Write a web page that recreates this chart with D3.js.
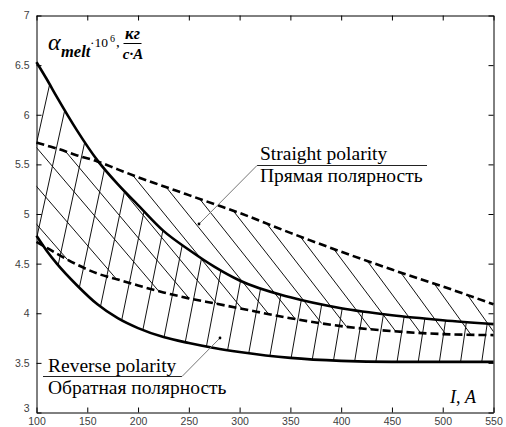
<!DOCTYPE html>
<html>
<head>
<meta charset="utf-8">
<script src="https://cdn.jsdelivr.net/npm/d3@7.9.0/dist/d3.min.js"></script>
<style>
  body { margin: 0; background: #fff; }
  svg { display: block; }
  .tick text { font-family: "Liberation Sans", Arial, sans-serif; font-size: 10.5px; fill: #404040; }
  .tick line, .domain { stroke: #000; }
  .lbl { font-family: "Liberation Serif", "Times New Roman", serif; fill: #000; }
</style>
</head>
<body>
<svg id="chart" width="506" height="427"></svg>
<script>
// welding current, A
const current = [100, 110, 120, 140, 160, 180, 200, 225, 250, 275, 300, 350, 400, 450, 500, 550];
// reverse polarity band (solid curves)
const reverseUpper = [6.53, 6.36, 6.18, 5.84, 5.54, 5.30, 5.09, 4.83, 4.64, 4.47, 4.33, 4.16, 4.05, 3.98, 3.93, 3.89];
const reverseLower = [4.78, 4.63, 4.50, 4.28, 4.09, 3.95, 3.85, 3.76, 3.70, 3.65, 3.61, 3.55, 3.52, 3.51, 3.51, 3.51];
// straight polarity band (dashed curves)
const straightUpper = [5.72, 5.69, 5.66, 5.59, 5.53, 5.45, 5.37, 5.28, 5.19, 5.10, 5.01, 4.81, 4.62, 4.44, 4.27, 4.09];
const straightLower = [4.72, 4.66, 4.60, 4.49, 4.40, 4.34, 4.28, 4.21, 4.15, 4.10, 4.05, 3.95, 3.87, 3.82, 3.79, 3.78];

const xTicks = [100, 150, 200, 250, 300, 350, 400, 450, 500, 550];
const yTicks = [3, 3.5, 4, 4.5, 5, 5.5, 6, 6.5, 7];
const yTickLabels = ['3', '3.5', '4', '4.5', '5', '5.5', '6', '6.5', '7'];

const svg = d3.select('#chart');
const x = d3.scaleLinear().domain([100, 550]).range([36.5, 493.5]);
const y = d3.scaleLinear().domain([3, 7]).range([412.5, 15.5]);
const yTop = y(7), yBottom = y(3);

const band = (upper, lower) => d3.area()
  .x((d, i) => x(current[i]))
  .y0((d, i) => y(lower[i]))
  .y1((d, i) => y(upper[i]))
  .curve(d3.curveMonotoneX)(current);

const defs = svg.append('defs');
defs.append('clipPath').attr('id', 'revClip')
  .append('path').attr('d', band(reverseUpper, reverseLower));
defs.append('clipPath').attr('id', 'strClip')
  .append('path').attr('d', band(straightUpper, straightLower));

// hatching: steep "/" lines in the reverse band, anchored on its lower curve
const lowerAt = d3.scaleLinear().domain(current).range(reverseLower);
let steep = [];
for (let k = -5; k <= 18; k++) {
  const px = 121.7 + 21.18 * k;
  const py = y(lowerAt(x.invert(Math.max(px, 36.5))));
  const s = 0.22 - 0.08 * (px - 36) / 457;
  steep.push([px + s * (py - yTop), yTop, px - s * (yBottom - py), yBottom]);
}
svg.append('g').attr('clip-path', 'url(#revClip)')
  .selectAll('line').data(steep).join('line')
  .attr('x1', d => d[0]).attr('y1', d => d[1])
  .attr('x2', d => d[2]).attr('y2', d => d[3])
  .attr('stroke', '#111').attr('stroke-width', 1);

// hatching: "\" lines in the straight band, anchored on its upper curve
const upperAt = d3.scaleLinear().domain(current).range(straightUpper);
let slant = [];
for (let k = -12; k <= 8; k++) {
  const px = 266.7 + 33.5 * k;
  const py = y(upperAt(x.invert(Math.min(Math.max(px, 36.5), 493.5))));
  const s = 0.85 - 0.15 * (px - 36) / 457;
  slant.push([px - s * (py - yTop), yTop, px + s * (yBottom - py), yBottom]);
}
svg.append('g').attr('clip-path', 'url(#strClip)')
  .selectAll('line').data(slant).join('line')
  .attr('x1', d => d[0]).attr('y1', d => d[1])
  .attr('x2', d => d[2]).attr('y2', d => d[3])
  .attr('stroke', '#111').attr('stroke-width', 1);

// curves
const line = d3.line().x((d, i) => x(current[i])).y(d => y(d)).curve(d3.curveMonotoneX);
[[reverseUpper, null], [reverseLower, null], [straightUpper, '8,4'], [straightLower, '8,4']].forEach(([vals, dash]) => {
  svg.append('path')
    .attr('d', line(vals))
    .attr('fill', 'none')
    .attr('stroke', '#000')
    .attr('stroke-width', 2.6)
    .attr('stroke-dasharray', dash);
});

// axes, ticks inward on all four sides
svg.append('g').attr('transform', `translate(0,${yBottom})`)
  .call(d3.axisBottom(x).tickValues(xTicks).tickSizeInner(-5).tickSizeOuter(0).tickPadding(5.5));
svg.append('g').attr('transform', `translate(0,${yTop})`)
  .call(d3.axisTop(x).tickValues(xTicks).tickSizeInner(-5).tickSizeOuter(0).tickFormat(''));
const yAxis = svg.append('g').attr('transform', `translate(${x(100)},0)`)
  .call(d3.axisLeft(y).tickValues(yTicks).tickFormat((d, i) => yTickLabels[i])
    .tickSizeInner(-5).tickSizeOuter(0).tickPadding(7));
// the "3" sits a little higher, clear of the "100"
yAxis.selectAll('.tick text').filter(d => d === 3).attr('dy', '-0.05em');
svg.append('g').attr('transform', `translate(${x(550)},0)`)
  .call(d3.axisRight(y).tickValues(yTicks).tickSizeInner(-5).tickSizeOuter(0).tickFormat(''));

// y-axis title: alpha_melt * 10^6, kg/(s*A)
const yt = svg.append('text').attr('class', 'lbl');
yt.append('tspan').attr('x', 48).attr('y', 50).attr('font-style', 'italic').attr('font-size', 24).text('α');
yt.append('tspan').attr('x', 61).attr('y', 56.5).attr('font-style', 'italic').attr('font-weight', 'bold').attr('font-size', 16.5).text('melt');
yt.append('tspan').attr('x', 90).attr('y', 47).attr('font-size', 13.5).text('·10');
yt.append('tspan').attr('x', 110).attr('y', 41.5).attr('font-size', 10).text('6');
yt.append('tspan').attr('x', 116).attr('y', 47).attr('font-size', 15).text(',');
svg.append('text').attr('class', 'lbl').attr('x', 132.5).attr('y', 38.5)
  .attr('text-anchor', 'middle').attr('font-style', 'italic').attr('font-weight', 'bold').attr('font-size', 17).text('кг');
svg.append('line').attr('x1', 123.5).attr('x2', 141.5).attr('y1', 43.5).attr('y2', 43.5).attr('stroke', '#000');
svg.append('text').attr('class', 'lbl').attr('x', 133).attr('y', 58.5)
  .attr('text-anchor', 'middle').attr('font-style', 'italic').attr('font-weight', 'bold').attr('font-size', 15).text('c·A');

// x-axis title
const xt = svg.append('text').attr('class', 'lbl').attr('x', 450).attr('y', 403).attr('font-size', 18);
xt.append('tspan').attr('font-style', 'italic').text('I');
xt.append('tspan').text(', ');
xt.append('tspan').attr('font-style', 'italic').text('A');

// annotations
function note(tx, ty, lines, ulX1, ulX2, ulY, lead) {
  svg.append('text').attr('class', 'lbl').attr('x', tx).attr('y', ty).attr('font-size', 19.5).text(lines[0]);
  svg.append('text').attr('class', 'lbl').attr('x', tx).attr('y', ty + 22).attr('font-size', 19.5).text(lines[1]);
  svg.append('line').attr('x1', ulX1).attr('x2', ulX2).attr('y1', ulY).attr('y2', ulY).attr('stroke', '#222');
  svg.append('line').attr('x1', lead[0]).attr('y1', lead[1]).attr('x2', lead[2]).attr('y2', lead[3])
    .attr('stroke', '#777').attr('stroke-width', 1);
  svg.append('circle').attr('cx', lead[2]).attr('cy', lead[3]).attr('r', 1.4).attr('fill', '#000');
}
note(260, 160, ['Straight polarity', 'Прямая полярность'], 257, 427, 165.5, [257, 165.5, 199, 224]);
note(48, 372, ['Reverse polarity', 'Обратная полярность'], 43, 182, 376.5, [182, 376.5, 220, 338]);
</script>
</body>
</html>
